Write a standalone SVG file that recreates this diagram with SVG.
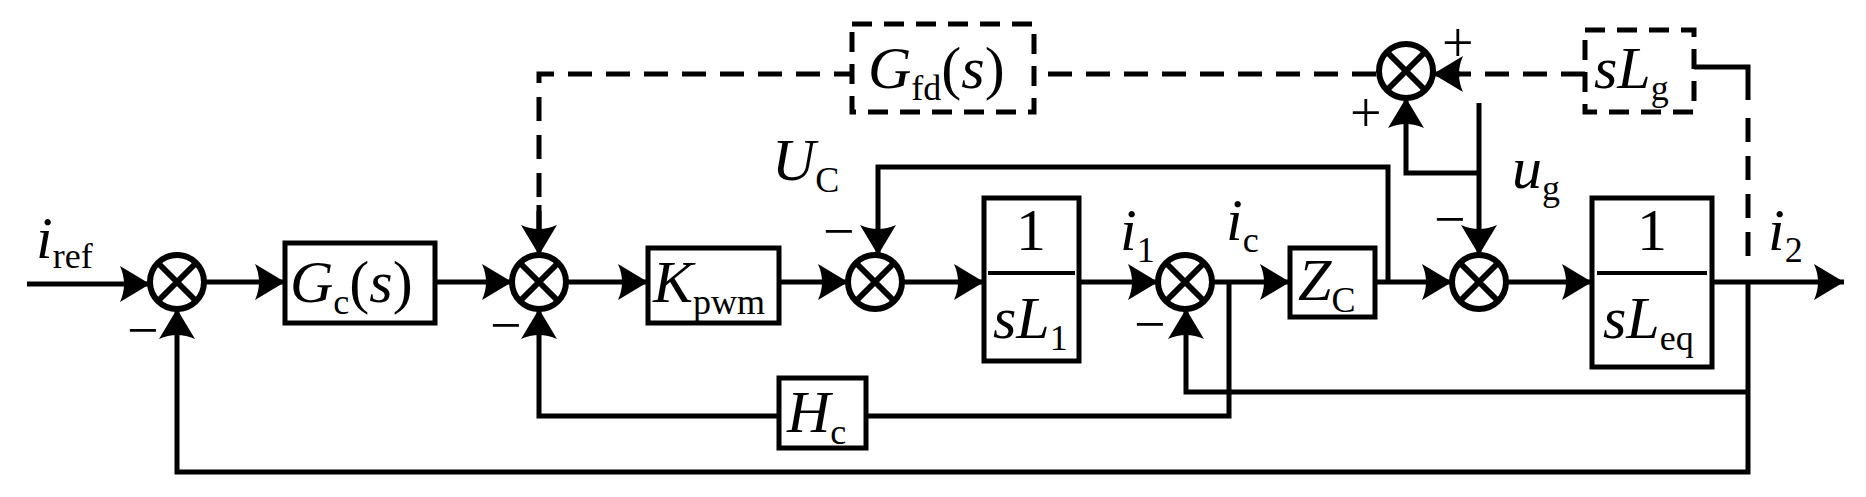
<svg xmlns="http://www.w3.org/2000/svg" width="1866" height="497" viewBox="0 0 1866 497">
<style>
.l{fill:none;stroke:#000;stroke-width:5;stroke-linejoin:miter}
.d{fill:none;stroke:#000;stroke-width:5;stroke-dasharray:24,14}
.b{fill:#fff;stroke:#000;stroke-width:5}
.bd{fill:#fff;stroke:#000;stroke-width:5;stroke-dasharray:20,12}
.s{fill:#fff;stroke:#000;stroke-width:6}
text{font-family:"Liberation Serif","DejaVu Serif","Times New Roman",serif;fill:#000}
.i{font-style:italic}
.t{font-size:60px}
.sub{font-size:36px;font-style:normal}
.sg{font-size:56px}
</style>
<defs>
<marker id="a" markerUnits="userSpaceOnUse" markerWidth="34" markerHeight="36" refX="30" refY="18" orient="auto">
<path d="M0,0 L30,18 L0,36 Q8,18 0,0 Z" fill="#000"/>
</marker>
<g id="sum"><circle r="27" class="s"/><path d="M-19,-19 L19,19 M19,-19 L-19,19" stroke="#000" stroke-width="6"/></g>
</defs>
<g id="connectors">
<path class="l" d="M27,284 H150" marker-end="url(#a)"/>
<path class="l" d="M204,282 H285" marker-end="url(#a)"/>
<path class="l" d="M435,282 H512" marker-end="url(#a)"/>
<path class="l" d="M566,282 H648" marker-end="url(#a)"/>
<path class="l" d="M779,282 H848" marker-end="url(#a)"/>
<path class="l" d="M902,282 H984" marker-end="url(#a)"/>
<path class="l" d="M1079,282 H1158" marker-end="url(#a)"/>
<path class="l" d="M1212,282 H1290" marker-end="url(#a)"/>
<path class="l" d="M1375,282 H1452" marker-end="url(#a)"/>
<path class="l" d="M1506,282 H1592" marker-end="url(#a)"/>
<path class="l" d="M1712,282 H1844" marker-end="url(#a)"/>
<path class="l" d="M1388,282 V167 H878 V255" marker-end="url(#a)"/>
<path class="l" d="M1748,282 V472 H177 V309" marker-end="url(#a)"/>
<path class="l" d="M1748,392 H1186 V309" marker-end="url(#a)"/>
<path class="l" d="M1229,282 V416 H866"/>
<path class="l" d="M779,416 H539 V309" marker-end="url(#a)"/>
<path class="d" d="M539,235 V74 H852"/>
<path class="l" d="M539,205 V255" marker-end="url(#a)"/>
<path class="d" d="M1048,74 H1379"/>
<path class="d" d="M1585,74 H1455"/>
<path class="l" d="M1460,74 H1433" marker-end="url(#a)"/>
<path class="l" d="M1479,103 V255" marker-end="url(#a)"/>
<path class="l" d="M1479,173 H1406 V98" marker-end="url(#a)"/>
<path class="l" d="M1694,67 H1748 V100"/>
<path class="d" d="M1748,118 V268"/>
</g>
<g id="sum1"><use href="#sum" x="177" y="282"/></g>
<g id="sum2"><use href="#sum" x="539" y="282"/></g>
<g id="sum3"><use href="#sum" x="875" y="282"/></g>
<g id="sum4"><use href="#sum" x="1185" y="282"/></g>
<g id="sum5"><use href="#sum" x="1479" y="282"/></g>
<g id="sum6"><use href="#sum" x="1406" y="71"/></g>
<g id="Gc"><rect class="b" x="285" y="243" width="150" height="80"/>
<text x="290" y="302" class="t i">G<tspan class="sub i" dy="12">c</tspan><tspan dy="-12" font-style="normal">(</tspan>s<tspan font-style="normal">)</tspan></text></g>
<g id="Kpwm"><rect class="b" x="648" y="248" width="131" height="75"/>
<text x="653" y="302" class="t i">K<tspan class="sub" dy="12">pwm</tspan></text></g>
<g id="Hc"><rect class="b" x="779" y="378" width="87" height="70"/>
<text x="787" y="432" class="t i">H<tspan class="sub" dy="12">c</tspan></text></g>
<g id="L1"><rect class="b" x="984" y="198" width="95" height="163"/>
<line x1="988" y1="273" x2="1075" y2="273" stroke="#000" stroke-width="4"/>
<text x="1031" y="250" class="t" text-anchor="middle">1</text>
<text x="993" y="338" class="t i">sL<tspan class="sub" dy="12">1</tspan></text></g>
<g id="Zc"><rect class="b" x="1290" y="248" width="85" height="69"/>
<text x="1298" y="300" class="t i">Z<tspan class="sub" dy="12">C</tspan></text></g>
<g id="Leq"><rect class="b" x="1592" y="198" width="120" height="169"/>
<line x1="1597" y1="273" x2="1707" y2="273" stroke="#000" stroke-width="4"/>
<text x="1652" y="250" class="t" text-anchor="middle">1</text>
<text x="1603" y="338" class="t i">sL<tspan class="sub" dy="12">eq</tspan></text></g>
<g id="Gfd"><rect class="bd" x="852" y="24" width="182" height="88"/>
<text x="868" y="88" class="t i">G<tspan class="sub" dy="12">fd</tspan><tspan dy="-12" font-style="normal">(</tspan>s<tspan font-style="normal">)</tspan></text></g>
<g id="sLg"><rect class="bd" x="1585" y="30" width="109" height="82"/>
<text x="1594" y="88" class="t i">sL<tspan class="sub" dy="12">g</tspan></text></g>
<g id="labels">
<text x="36" y="258" class="t i">i<tspan class="sub" dy="10">ref</tspan></text>
<text x="772" y="180" class="t i">U<tspan class="sub i" dy="12">C</tspan></text>
<text x="1120" y="250" class="t i">i<tspan class="sub" dy="12">1</tspan></text>
<text x="1226" y="240" class="t i">i<tspan class="sub i" dy="12">c</tspan></text>
<text x="1512" y="188" class="t i">u<tspan class="sub" dy="12">g</tspan></text>
<text x="1768" y="250" class="t i">i<tspan class="sub" dy="12">2</tspan></text>
<text x="127" y="349" class="sg">−</text>
<text x="490" y="344" class="sg">−</text>
<text x="823" y="250" class="sg">−</text>
<text x="1134" y="343" class="sg">−</text>
<text x="1434" y="238" class="sg">−</text>
<text x="1442" y="62" class="sg">+</text>
<text x="1350" y="132" class="sg">+</text>
</g>
</svg>
